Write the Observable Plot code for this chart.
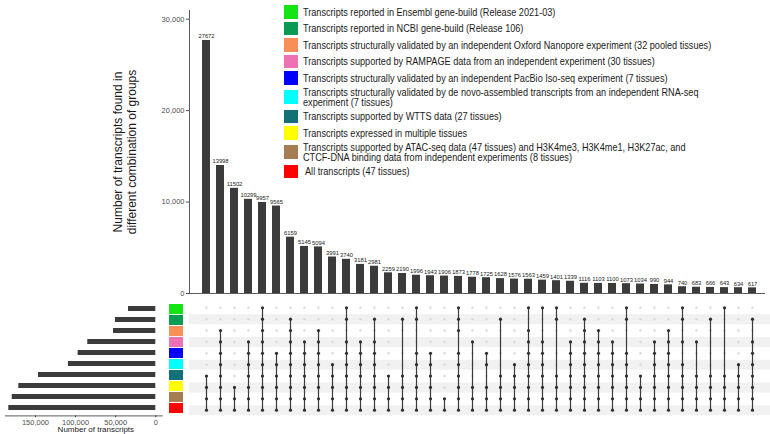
<!DOCTYPE html>
<html>
<head>
<meta charset="utf-8">
<script src="https://cdn.jsdelivr.net/npm/d3@7"></script>
<script src="https://cdn.jsdelivr.net/npm/@observablehq/plot@0.6"></script>
<style>
  html, body { margin: 0; padding: 0; background: #fff; overflow: hidden; }
  #chart { position: relative; width: 770px; height: 434px; overflow: hidden; font-family: "Liberation Sans", Arial, sans-serif; }
  #chart > * { position: absolute; }
</style>
</head>
<body>
<div id="chart"></div>
<script>
// ---------------- data ----------------
const setLabels = [
  ["Transcripts reported in Ensembl gene-build (Release 2021-03)"],
  ["Transcripts reported in NCBI gene-build (Release 106)"],
  ["Transcripts structurally validated by an independent Oxford Nanopore experiment (32 pooled tissues)"],
  ["Transcripts supported by RAMPAGE data from an independent experiment (30 tissues)"],
  ["Transcripts structurally validated by an independent PacBio Iso-seq experiment (7 tissues)"],
  ["Transcripts structurally validated by de novo-assembled transcripts from an independent RNA-seq", "experiment (7 tissues)"],
  ["Transcripts supported by WTTS data (27 tissues)"],
  ["Transcripts expressed in multiple tissues"],
  ["Transcripts supported by ATAC-seq data (47 tissues) and H3K4me3, H3K4me1, H3K27ac, and", "CTCF-DNA binding data from independent experiments (8 tissues)"],
  [" All transcripts (47 tissues)"]
];
const setColors = ["#14e314", "#0a9b52", "#f78f57", "#ee71b4", "#0000ff", "#00ffff", "#127077", "#ffff00", "#a67c52", "#ff0000"];
const setSizes = [34000, 50300, 52700, 84800, 96800, 108900, 146300, 170800, 179000, 183300];

const comboCounts = [27672, 13998, 11502, 10299, 9957, 9565, 6159, 5145, 5094, 3991,
  3740, 3181, 2981, 2259, 2190, 1996, 1943, 1906, 1873, 1778,
  1725, 1628, 1576, 1563, 1459, 1401, 1339, 1116, 1103, 1100,
  1073, 1034, 990, 944, 740, 683, 666, 643, 634, 617];

// rows of each intersection (0 = top set, 9 = "All transcripts")
const comboMembers = [
  [6,7,8,9], [2,3,4,5,6,7,8,9], [7,8,9], [3,4,5,6,7,8,9], [0,1,2,3,4,5,6,7,8,9],
  [4,5,6,7,8,9], [1,2,3,4,5,6,7,8,9], [3,4,5,6,7,8,9], [2,3,4,5,6,7,8,9], [5,6,7,8,9],
  [0,1,3,4,5,6,7,8,9], [3,4,5,6,7,8,9], [1,3,4,5,6,7,8,9], [6,7,8,9], [1,6,7,8,9],
  [0,1,4,5,6,7,8,9], [4,5,6,7,8,9], [8,9], [0,1,2,4,5,6,7,8,9], [3,7,8,9],
  [4,5,7,8,9], [1,6,7,8,9], [5,6,7,8,9], [0,2,3,4,5,6,7,8,9], [0,3,4,5,6,7,8,9],
  [0,1,6,7,8,9], [3,4,5,6,7,8,9], [1,2,3,4,5,6,7,8,9], [2,3,4,5,6,7,8,9], [3,4,5,6,7,8,9],
  [0,1,4,5,6,7,8,9], [6,7,8,9], [3,4,5,6,7,8,9], [2,3,4,5,6,7,8,9], [0,1,3,5,6,7,8,9],
  [3,6,7,8,9], [1,6,7,8,9], [0,6,7,8,9], [5,6,7,8,9], [1,3,4,5,6,7,8,9]
];

const yTitle = "Number of transcripts found in\ndifferent combination of groups";
const xTitle = "Number of transcripts";

// ---------------- derived tables ----------------
const ids = d3.range(comboCounts.length);
const rows = d3.range(setSizes.length);
const combos = ids.map(i => ({id: i, count: comboCounts[i]}));
const cells = [];
ids.forEach(i => rows.forEach(r => cells.push({id: i, row: r, member: comboMembers[i].includes(r)})));
const links = ids.map(i => ({id: i, lo: d3.min(comboMembers[i]), hi: d3.max(comboMembers[i])}));
const shadedRows = rows.filter(r => r % 2 === 1);

const FONT = '"Liberation Sans", Arial, sans-serif';
const DARK = "#3b3b3b";
const comma = d3.format(",");
const chart = document.getElementById("chart");

const xBand = {type: "band", domain: ids, range: [199.3, 758], paddingInner: 0.433, paddingOuter: 0, axis: null};

// ---------------- top bar chart ----------------
const topPlot = Plot.plot({
  width: 770, height: 296,
  marginLeft: 189, marginRight: 5, marginTop: 10, marginBottom: 3,
  x: xBand,
  y: {domain: [0, 30950], ticks: 3, tickFormat: comma, tickSize: 3, tickPadding: 2, label: null},
  style: {fontFamily: FONT, fontSize: "7.5px", color: "#4d4d4d", background: "transparent", overflow: "visible"},
  marks: [
    Plot.barY(combos, {x: "id", y: "count", fill: DARK}),
    Plot.text(combos, {x: "id", y: "count", text: d => String(d.count), dy: -4, fontSize: 5.8, fill: "#222"}),
    Plot.ruleY([0], {stroke: "#333", strokeWidth: 0.8}),
    Plot.frame({anchor: "left", stroke: "#333", strokeWidth: 0.8}),
    Plot.text([yTitle], {frameAnchor: "left", rotate: -90, dx: -65, textAnchor: "middle", lineAnchor: "middle",
      fontSize: 12, lineHeight: 1.2, fill: "#1a1a1a"})
  ]
});
topPlot.style.left = "0px"; topPlot.style.top = "0px";
chart.appendChild(topPlot);

// ---------------- matrix ----------------
const matrixPlot = Plot.plot({
  width: 770, height: 124,
  marginLeft: 189, marginRight: 0, marginTop: 0, marginBottom: 0,
  x: xBand,
  y: {domain: [-0.5, 9.5], range: [5.6, 119.4], axis: null},
  style: {background: "transparent"},
  marks: [
    Plot.ruleY(shadedRows, {y: d => d, stroke: "#f1f1f1", strokeWidth: 10}),
    Plot.dot(cells.filter(d => !d.member), {x: "id", y: "row", r: 1.2, fill: "#d9d9d9"}),
    Plot.ruleX(links, {x: "id", y1: "lo", y2: "hi", stroke: DARK, strokeWidth: 1.2}),
    Plot.dot(cells.filter(d => d.member), {x: "id", y: "row", r: 1.6, fill: "#2f2f2f"})
  ]
});
matrixPlot.style.left = "0px"; matrixPlot.style.top = "296px";
chart.appendChild(matrixPlot);

// ---------------- set colour swatches ----------------
const swatchPlot = Plot.plot({
  width: 14, height: 124,
  marginLeft: 0, marginRight: 0, marginTop: 5.6, marginBottom: 4.6,
  y: {type: "band", domain: rows, paddingInner: 0.1, paddingOuter: 0.05, axis: null},
  color: {type: "identity"},
  style: {background: "transparent"},
  marks: [Plot.cell(rows, {y: d => d, fill: d => setColors[d]})]
});
swatchPlot.style.left = "169px"; swatchPlot.style.top = "296px";
chart.appendChild(swatchPlot);

// ---------------- set size bars ----------------
const leftPlot = Plot.plot({
  width: 168, height: 138,
  marginLeft: 5, marginRight: 6.3, marginTop: 5.6, marginBottom: 18.6,
  x: {domain: [-8000, 187400], reverse: true, ticks: 4, tickFormat: comma, tickSize: 2, tickPadding: 1.5, label: null},
  y: {type: "band", domain: rows, paddingInner: 0.53, paddingOuter: 0.265, axis: null},
  style: {fontFamily: FONT, fontSize: "7.5px", color: "#4d4d4d", background: "transparent", overflow: "visible"},
  marks: [
    Plot.barX(rows, {y: d => d, x1: 0, x2: d => setSizes[d], fill: DARK}),
    Plot.frame({anchor: "bottom", stroke: "#333", strokeWidth: 0.8}),
    Plot.text([xTitle], {frameAnchor: "bottom", dy: 14, dx: 12, lineAnchor: "middle", fontSize: 8, fill: "#1a1a1a"})
  ]
});
leftPlot.style.left = "0px"; leftPlot.style.top = "296px";
chart.appendChild(leftPlot);

// ---------------- legend ----------------
const legend = document.createElement("div");
legend.style.cssText = "left:284px;top:5px;display:flex;flex-direction:column;gap:3px;";
setLabels.forEach((lines, i) => {
  const item = document.createElement("div");
  item.style.cssText = `display:flex;align-items:center;height:${lines.length > 1 ? 19 : 13.5}px;`;
  const sw = document.createElement("div");
  sw.style.cssText = `width:14px;height:13.5px;flex:none;background:${setColors[i]};`;
  const tx = document.createElement("div");
  tx.style.cssText = `margin-left:5px;font-size:11px;line-height:10px;white-space:pre;color:#1a1a1a;transform:scaleX(0.83);transform-origin:left center;font-family:${FONT};`;
  tx.textContent = lines.join("\n");
  item.appendChild(sw); item.appendChild(tx);
  legend.appendChild(item);
});
chart.appendChild(legend);
</script>
</body>
</html>
